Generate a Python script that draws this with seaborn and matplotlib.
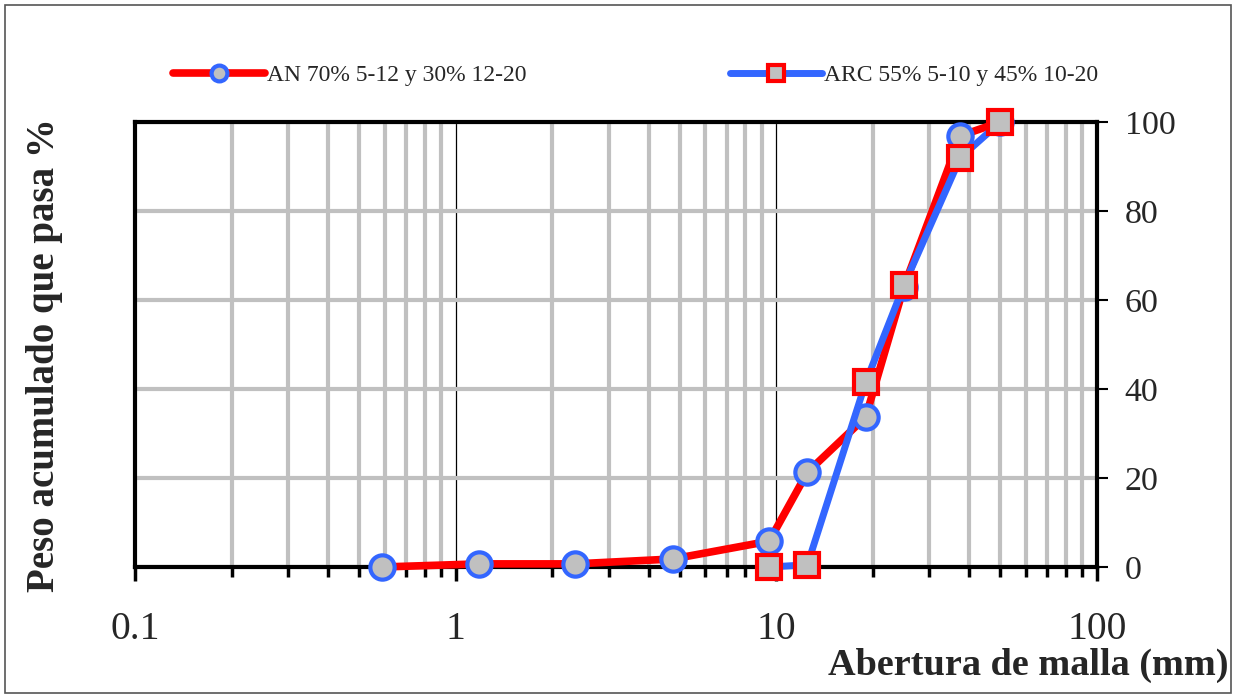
import matplotlib
matplotlib.use("Agg")
import matplotlib.pyplot as plt
import seaborn as sns
import pandas as pd
from matplotlib.ticker import LogLocator, FixedLocator, NullFormatter, FuncFormatter
from matplotlib.patches import Rectangle

# ---- data ----
sieve_an = [0.59, 1.18, 2.36, 4.75, 9.5, 12.5, 19, 25, 37.5, 50]
pass_an = [0, 0.7, 0.7, 1.8, 5.8, 21.3, 33.7, 63, 96.9, 100]
sieve_arc = [9.5, 12.5, 19, 25, 37.5, 50]
pass_arc = [0, 0.5, 41.5, 63.3, 92, 100]
label_an = "AN 70% 5-12 y 30% 12-20"
label_arc = "ARC 55% 5-10 y 45% 10-20"
x_ticks = [0.1, 1, 10, 100]
y_ticks = [0, 20, 40, 60, 80, 100]

sns.set_style("white")
plt.rcParams["font.family"] = ["Liberation Serif", "DejaVu Serif"]

RED = "#ff0000"
BLUE = "#3366ff"
GRAY = "#c0c0c0"

fig = plt.figure(figsize=(12.36, 6.98), dpi=100)
ax = fig.add_axes([135/1236, 1-567/698, (1097-135)/1236, (567-122)/698])

df_an = pd.DataFrame({"x": sieve_an, "y": pass_an})
df_arc = pd.DataFrame({"x": sieve_arc, "y": pass_arc})

sns.lineplot(data=df_an, x="x", y="y", ax=ax, color=RED, lw=5.5, marker="o",
             markersize=17.5, markerfacecolor=GRAY, markeredgecolor=BLUE,
             markeredgewidth=3, label=label_an, clip_on=False, zorder=5)
sns.lineplot(data=df_arc, x="x", y="y", ax=ax, color=BLUE, lw=5, marker="s",
             markersize=17, markerfacecolor=GRAY, markeredgecolor=RED,
             markeredgewidth=3, label=label_arc, clip_on=False, zorder=6)

ax.set_xscale("log")
ax.set_xlim(0.1, 100)
ax.set_ylim(0, 100)

ax.xaxis.set_major_locator(FixedLocator(x_ticks))
ax.xaxis.set_major_formatter(FuncFormatter(lambda v, p: f"{v:g}"))
ax.xaxis.set_minor_locator(LogLocator(base=10, subs=range(2, 10)))
ax.xaxis.set_minor_formatter(NullFormatter())
ax.yaxis.set_major_locator(FixedLocator(y_ticks))

ax.yaxis.tick_right()
ax.yaxis.set_label_position("right")

ax.grid(which="minor", axis="x", color=GRAY, lw=3, zorder=0)
ax.grid(which="major", axis="x", color="black", lw=0.9, zorder=0)
ax.grid(which="major", axis="y", color=GRAY, lw=3, zorder=0)
ax.set_axisbelow(True)

for s in ax.spines.values():
    s.set_visible(True)
    s.set_color("black")
    s.set_linewidth(3)
ax.spines["bottom"].set_zorder(4)

ax.tick_params(axis="x", which="major", direction="out", length=10, width=2.5,
               color="black", labelsize=28.5, pad=22, bottom=True)
ax.tick_params(axis="x", which="minor", direction="out", length=7, width=2.5,
               color="black", bottom=True)
ax.tick_params(axis="y", which="major", direction="out", length=8, width=1.5,
               color="black", labelsize=24.5, pad=12, right=True, left=False)

ax.set_xlabel("")
ax.set_ylabel("")

fig.text(1228/1236, 1-665/698, "Abertura de malla (mm)", ha="right", va="center",
         fontsize=27.5, fontweight="bold")
fig.text(45/1236, 1-355/698, "Peso acumulado que pasa %", ha="center", va="center",
         rotation=90, fontsize=28, fontweight="bold")

leg = ax.get_legend()
handles, labels = ax.get_legend_handles_labels()
if leg is not None:
    leg.remove()
fig.legend(handles, labels, loc="center left", bbox_to_anchor=(173/1236, 1-75/698),
           ncol=2, frameon=False, fontsize=17, handlelength=3.9, handletextpad=0.1,
           columnspacing=8.6, borderpad=0, borderaxespad=0, markerscale=0.65)

fig.patches.append(Rectangle((5/1236, 5/698), 1226/1236, 688/698, transform=fig.transFigure,
                             fill=False, edgecolor="#555555", lw=1.2))

fig.savefig("out.png", dpi=100)
